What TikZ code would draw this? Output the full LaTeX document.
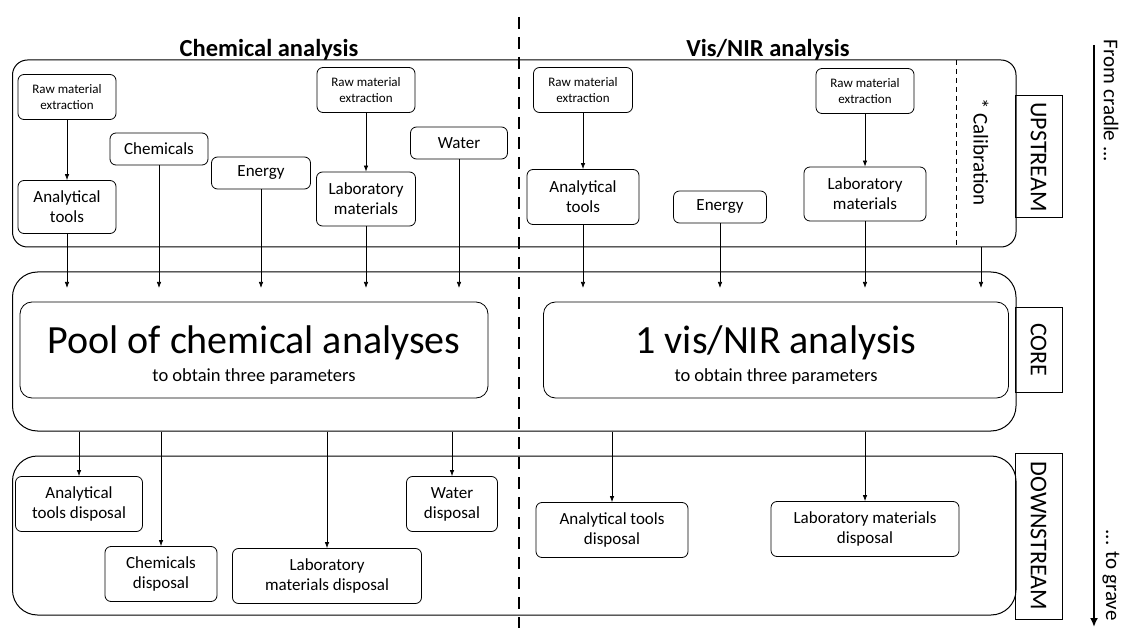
\documentclass[tikz,border=0pt]{standalone}
\usepackage{fontspec}
\setmainfont{Carlito}
\usetikzlibrary{arrows.meta}

\tikzset{
  box/.style={draw, rounded corners=6pt, line width=0.8pt, align=center, inner sep=1pt},
  rawbox/.style={box, font=\fontsize{13}{16}\selectfont, minimum height=45pt},
  inbox/.style={box, font=\fontsize{17}{20}\selectfont},
  outbox/.style={box, font=\fontsize{17}{20}\selectfont, minimum height=55pt},
  corebox/.style={box, rounded corners=12pt, minimum height=96pt, font=\fontsize{18.5}{28}\selectfont},
  band/.style={draw, line width=1pt, minimum width=1003.5pt},
  tag/.style={draw, line width=1pt, rotate=-90, minimum height=47pt, font=\fontsize{24}{26}\selectfont},
  side/.style={rotate=-90, font=\fontsize{21}{24}\selectfont},
  title/.style={anchor=base, font=\bfseries\fontsize{24.5}{28}\selectfont},
  flow/.style={-{Latex[length=6pt,width=4.5pt]}, line width=0.7pt},
}

\begin{document}
\begin{tikzpicture}[x=1pt, y=-1pt]
        \useasboundingbox (0,0) rectangle (1122,628);
        % Bands
        \node [band, rounded corners=15pt, minimum height=187pt] (up) at (514.25,153.5) {};
        \node [band, rounded corners=25pt, minimum height=159pt] (core) at (514.25,351.5) {};
        \node [band, rounded corners=25pt, minimum height=159pt] (down) at (514.25,535.5) {};
        % Tags
        \node [tag, minimum width=122pt] (upTag) at (1038.5,157) {UPSTREAM};
        \node [tag, minimum width=84pt] (coreTag) at (1038.5,350) {CORE};
        \node [tag, minimum width=166pt] (downTag) at (1038.5,536) {DOWNSTREAM};
        % Titles
        \node [title] (chemTitle) at (269,57) {Chemical analysis};
        \node [title] (visTitle) at (768,57) {Vis/NIR analysis};
        % Divider
        \coordinate (divTop) at (519,17);
        \coordinate (divBot) at (519,628);
        \draw [line width=2.5pt, dash pattern=on 12pt off 8pt] (divTop) -- (divBot);
        % Calibration
        \coordinate (calTop) at (956,60);
        \coordinate (calBot) at (956,247);
        \draw [line width=0.7pt, dash pattern=on 5pt off 4pt] (calTop) -- (calBot);
        \node [side] (calib) at (981,152) {* Calibration};
        % Life cycle
        \coordinate (lifeTop) at (1094,45);
        \coordinate (lifeEnd) at (1094,627);
        \draw [line width=2.5pt, -{Latex[length=9pt,width=8pt]}] (lifeTop) -- (lifeEnd);
        \node [side] (cradle) at (1111,101) {From cradle ...};
        \node [side] (grave) at (1111,575) {... to grave};
        % Upstream, chemical
        \node [rawbox, minimum width=98pt] (rawA) at (67,97) {Raw material\\extraction};
        \node [inbox, minimum width=98pt, minimum height=53pt] (toolsA) at (67,207) {Analytical\\tools};
        \node [inbox, minimum width=98pt, minimum height=32pt] (chemA) at (159,149) {Chemicals};
        \node [inbox, minimum width=99pt, minimum height=32pt] (energyA) at (261,173) {Energy};
        \node [rawbox, minimum width=98pt] (rawB) at (366,90) {Raw material\\extraction};
        \node [inbox, minimum width=99pt, minimum height=54pt] (labA) at (366,199) {Laboratory\\materials};
        \node [inbox, minimum width=97pt, minimum height=32pt] (waterA) at (459,143) {Water};
        % Upstream, vis/NIR
        \node [rawbox, minimum width=99pt] (rawC) at (583,90) {Raw material\\extraction};
        \node [inbox, minimum width=112pt, minimum height=55pt] (toolsC) at (583,197) {Analytical\\tools};
        \node [inbox, minimum width=93pt, minimum height=32pt] (energyC) at (720,207) {Energy};
        \node [rawbox, minimum width=98pt] (rawD) at (865,91) {Raw material\\extraction};
        \node [inbox, minimum width=122pt, minimum height=54pt] (labC) at (865,194) {Laboratory\\materials};
        \draw [flow] (rawA) -- (toolsA);
        \draw [flow] (rawB) -- (labA);
        \draw [flow] (rawC) -- (toolsC);
        \draw [flow] (rawD) -- (labC);
        % Core
        \node [corebox, minimum width=468pt] (pool) at (254,350)
          {{\fontsize{40}{28}\selectfont\rule{0pt}{37pt}Pool of chemical analyses}\\to obtain three parameters};
        \node [corebox, minimum width=465pt] (visCore) at (776,350)
          {{\fontsize{40}{28}\selectfont\rule{0pt}{37pt}1 vis/NIR analysis}\\to obtain three parameters};
        \coordinate (coreIn) at (0,288);
        \foreach \src in {toolsA, chemA, energyA, labA, waterA, toolsC, energyC, labC}
          \draw [flow] (\src) -- (\src |- coreIn);
        \draw [flow] (calib |- up.south) -- (calib |- coreIn);
        % Downstream
        \node [outbox, minimum width=127pt] (disToolsA) at (79,504) {Analytical\\tools disposal};
        \node [outbox, minimum width=91pt] (disWaterA) at (452,504) {Water\\disposal};
        \node [outbox, minimum width=112pt] (disChemA) at (161,574) {Chemicals\\disposal};
        \node [outbox, minimum width=189pt] (disLabA) at (327,576) {Laboratory\\materials disposal};
        \node [outbox, minimum width=152pt] (disToolsC) at (612,530) {Analytical tools\\disposal};
        \node [outbox, minimum width=188pt] (disLabC) at (865,529) {Laboratory materials\\disposal};
        \foreach \dst in {disToolsA, disWaterA, disChemA, disLabA, disToolsC, disLabC}
          \draw [flow] (\dst |- core.south) -- (\dst);
    \end{tikzpicture}
\end{document}
